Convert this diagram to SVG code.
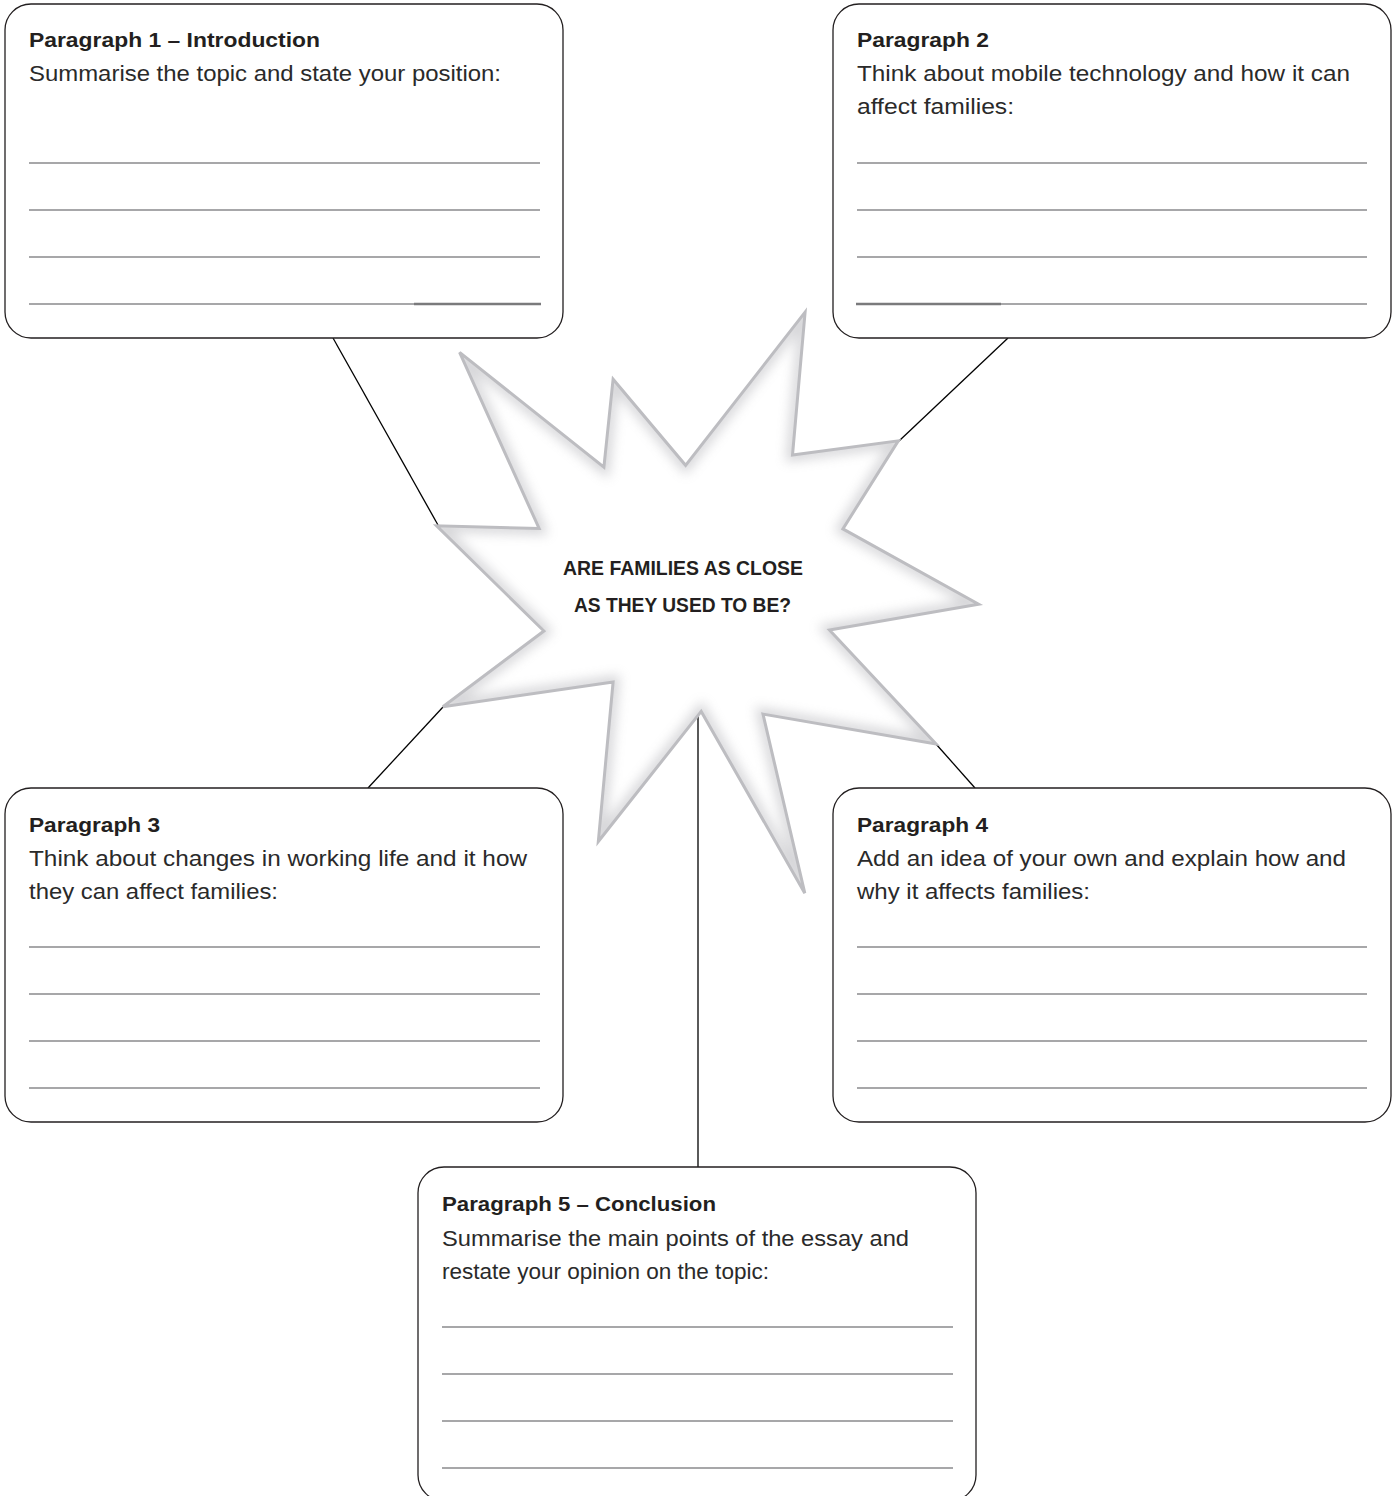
<svg xmlns="http://www.w3.org/2000/svg" width="1399" height="1496" viewBox="0 0 1399 1496">
<style>
.box{fill:#fff;stroke:#231f20;stroke-width:1.3}
.rule{stroke:#8a8a8c;stroke-width:1.3}
.rule2{stroke:#7a7a7c;stroke-width:2.4}
.title{font-family:"Liberation Sans",Arial,sans-serif;font-weight:bold;font-size:21px;fill:#231f20}
.body{font-family:"Liberation Sans",Arial,sans-serif;font-size:22px;fill:#2a2a2a}
.center{font-family:"Liberation Sans",Arial,sans-serif;font-weight:bold;font-size:20.5px;fill:#231f20}
.conn{stroke:#000;stroke-width:1.3;fill:none}
</style>
<defs>
<clipPath id="starClip"><polygon id="starShape" points="459.6,352.4 603.9,467.2 613.1,379.2 685.6,465.3 805.1,312.2 792.5,455 898.3,440.8 842.9,528.9 978.6,604.2 829.5,629.9 936.1,743.9 763,714.1 804.8,893.2 701.2,711.4 598.3,841.5 613.1,681.9 442.9,706.8 543.9,631 436.6,525.8 539.1,528.5"/></clipPath>
<filter id="blur" x="-20%" y="-20%" width="140%" height="140%"><feGaussianBlur stdDeviation="6"/></filter>
</defs>
<rect width="1399" height="1496" fill="#fff"/>
<g id="connectors">
<line class="conn" x1="333" y1="338" x2="438" y2="525"/>
<line class="conn" x1="1008" y1="338" x2="899" y2="441"/>
<line class="conn" x1="368" y1="788" x2="443" y2="707"/>
<line class="conn" x1="975" y1="788" x2="936" y2="744"/>
<line class="conn" x1="698" y1="711" x2="698" y2="1167"/>
</g>
<g id="node-p1">
<rect class="box" x="5" y="4" width="558" height="334" rx="26"/>
<text class="title" x="29" y="47" textLength="291" lengthAdjust="spacingAndGlyphs">Paragraph 1 – Introduction</text>
<text class="body" x="29" y="81" textLength="472" lengthAdjust="spacingAndGlyphs">Summarise the topic and state your position:</text>
<line class="rule" x1="29" y1="163" x2="540" y2="163"/>
<line class="rule" x1="29" y1="210" x2="540" y2="210"/>
<line class="rule" x1="29" y1="257" x2="540" y2="257"/>
<line class="rule" x1="29" y1="304" x2="540" y2="304"/>
<line class="rule2" x1="414" y1="304" x2="541" y2="304"/>
</g>
<g id="node-p2">
<rect class="box" x="833" y="4" width="558" height="334" rx="26"/>
<text class="title" x="857" y="47" textLength="132" lengthAdjust="spacingAndGlyphs">Paragraph 2</text>
<text class="body" x="857" y="81" textLength="493" lengthAdjust="spacingAndGlyphs">Think about mobile technology and how it can</text>
<text class="body" x="857" y="114" textLength="157" lengthAdjust="spacingAndGlyphs">affect families:</text>
<line class="rule" x1="857" y1="163" x2="1367" y2="163"/>
<line class="rule" x1="857" y1="210" x2="1367" y2="210"/>
<line class="rule" x1="857" y1="257" x2="1367" y2="257"/>
<line class="rule" x1="857" y1="304" x2="1367" y2="304"/>
<line class="rule2" x1="856" y1="304" x2="1001" y2="304"/>
</g>
<g id="node-p3">
<rect class="box" x="5" y="788" width="558" height="334" rx="26"/>
<text class="title" x="29" y="832" textLength="131" lengthAdjust="spacingAndGlyphs">Paragraph 3</text>
<text class="body" x="29" y="866" textLength="498" lengthAdjust="spacingAndGlyphs">Think about changes in working life and it how</text>
<text class="body" x="29" y="899" textLength="249" lengthAdjust="spacingAndGlyphs">they can affect families:</text>
<line class="rule" x1="29" y1="947" x2="540" y2="947"/>
<line class="rule" x1="29" y1="994" x2="540" y2="994"/>
<line class="rule" x1="29" y1="1041" x2="540" y2="1041"/>
<line class="rule" x1="29" y1="1088" x2="540" y2="1088"/>
</g>
<g id="node-p4">
<rect class="box" x="833" y="788" width="558" height="334" rx="26"/>
<text class="title" x="857" y="832" textLength="131" lengthAdjust="spacingAndGlyphs">Paragraph 4</text>
<text class="body" x="857" y="866" textLength="489" lengthAdjust="spacingAndGlyphs">Add an idea of your own and explain how and</text>
<text class="body" x="857" y="899" textLength="233" lengthAdjust="spacingAndGlyphs">why it affects families:</text>
<line class="rule" x1="857" y1="947" x2="1367" y2="947"/>
<line class="rule" x1="857" y1="994" x2="1367" y2="994"/>
<line class="rule" x1="857" y1="1041" x2="1367" y2="1041"/>
<line class="rule" x1="857" y1="1088" x2="1367" y2="1088"/>
</g>
<g id="node-p5">
<rect class="box" x="418" y="1167" width="558" height="334" rx="26"/>
<text class="title" x="442" y="1211" textLength="274" lengthAdjust="spacingAndGlyphs">Paragraph 5 – Conclusion</text>
<text class="body" x="442" y="1246" textLength="467" lengthAdjust="spacingAndGlyphs">Summarise the main points of the essay and</text>
<text class="body" x="442" y="1279" textLength="327" lengthAdjust="spacingAndGlyphs">restate your opinion on the topic:</text>
<line class="rule" x1="442" y1="1327" x2="953" y2="1327"/>
<line class="rule" x1="442" y1="1374" x2="953" y2="1374"/>
<line class="rule" x1="442" y1="1421" x2="953" y2="1421"/>
<line class="rule" x1="442" y1="1468" x2="953" y2="1468"/>
</g>
<g id="node-center">
<use href="#starShape" fill="#fff"/>
<g clip-path="url(#starClip)">
<use href="#starShape" fill="none" stroke="#a4a4aa" stroke-width="12" stroke-linejoin="miter" filter="url(#blur)" opacity="0.45"/>
</g>
<use href="#starShape" fill="none" stroke="#bdbdc1" stroke-width="3" stroke-linejoin="miter"/>
<text class="center" x="563" y="575" textLength="240" lengthAdjust="spacingAndGlyphs">ARE FAMILIES AS CLOSE</text>
<text class="center" x="574" y="612" textLength="217" lengthAdjust="spacingAndGlyphs">AS THEY USED TO BE?</text>
</g>
</svg>
